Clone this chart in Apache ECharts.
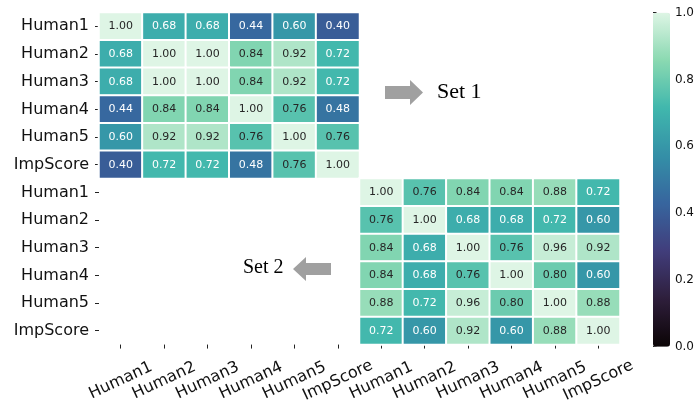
<!DOCTYPE html>
<html>
<head>
<meta charset="utf-8">
<script src="https://cdn.jsdelivr.net/npm/echarts@6/dist/echarts.min.js"></script>
<style>
    html, body { margin: 0; padding: 0; background: #fff; }
    #chart { width: 697px; height: 405px; }
</style>
</head>
<body>
<div id="chart"></div>
<script>
    // row / column labels (same list used for both sets)
    const categories = ['Human1', 'Human2', 'Human3', 'Human4', 'Human5', 'ImpScore'];

    // Set 1 (top-left block)
    const set1 = [
        [1.00, 0.68, 0.68, 0.44, 0.60, 0.40],
        [0.68, 1.00, 1.00, 0.84, 0.92, 0.72],
        [0.68, 1.00, 1.00, 0.84, 0.92, 0.72],
        [0.44, 0.84, 0.84, 1.00, 0.76, 0.48],
        [0.60, 0.92, 0.92, 0.76, 1.00, 0.76],
        [0.40, 0.72, 0.72, 0.48, 0.76, 1.00]
    ];

    // Set 2 (bottom-right block)
    const set2 = [
        [1.00, 0.76, 0.84, 0.84, 0.88, 0.72],
        [0.76, 1.00, 0.68, 0.68, 0.72, 0.60],
        [0.84, 0.68, 1.00, 0.76, 0.96, 0.92],
        [0.84, 0.68, 0.76, 1.00, 0.80, 0.60],
        [0.88, 0.72, 0.96, 0.80, 1.00, 0.88],
        [0.72, 0.60, 0.92, 0.60, 0.88, 1.00]
    ];

    // colorbar ticks
    const colorbarTicks = [0.0, 0.2, 0.4, 0.6, 0.8, 1.0];

    // mako colormap
    const mako = ['#0B0405', '#2E1E3B', '#413D7B', '#37659E', '#348FA7', '#40B7AD', '#8AD9B1', '#DEF5E5'];

    const axisCats = categories.concat(categories);
    const n = categories.length;

    function cell(x, y, v) {
        return {
            value: [x, y, v],
            label: {color: v < 0.74 ? '#ffffff' : '#262626'}
        };
    }

    const heatData = [];
    set1.forEach((row, r) => row.forEach((v, c) => heatData.push(cell(c, r, v))));
    set2.forEach((row, r) => row.forEach((v, c) => heatData.push(cell(c + n, r + n, v))));

    const font = 'DejaVu Sans';

    const option = {
        animation: false,
        backgroundColor: '#fff',
        grid: [
            {left: 99, right: 77, top: 12.5, bottom: 60},
            // colorbar axis
            {left: 653, width: 17, top: 12.7, height: 334}
        ],
        xAxis: [
            {
                type: 'category',
                gridIndex: 0,
                data: axisCats,
                position: 'bottom',
                axisLine: {show: false},
                axisTick: {show: true, alignWithLabel: true, length: 4, lineStyle: {color: '#222', width: 1}},
                splitLine: {show: false},
                splitArea: {show: false},
                axisLabel: {
                    interval: 0,
                    rotate: 25,
                    align: 'center',
                    verticalAlign: 'middle',
                    margin: 36,
                    fontFamily: font,
                    fontSize: 16,
                    color: '#111'
                }
            },
            {
                type: 'value',
                gridIndex: 1,
                show: false
            }
        ],
        yAxis: [
            {
                type: 'category',
                gridIndex: 0,
                data: axisCats,
                inverse: true,
                axisLine: {show: false},
                axisTick: {show: true, alignWithLabel: true, length: 4, lineStyle: {color: '#222', width: 1}},
                splitLine: {show: false},
                splitArea: {show: false},
                axisLabel: {
                    interval: 0,
                    margin: 10,
                    fontFamily: font,
                    fontSize: 16,
                    color: '#111'
                }
            },
            {
                type: 'value',
                gridIndex: 1,
                position: 'right',
                min: 0,
                max: 1,
                interval: 0.2,
                axisLine: {show: false},
                axisTick: {show: true, length: 3.5, lineStyle: {color: '#222', width: 1}},
                splitLine: {show: false},
                axisLabel: {
                    margin: 8,
                    fontFamily: font,
                    fontSize: 12,
                    color: '#111',
                    formatter: v => v.toFixed(1)
                }
            }
        ],
        visualMap: {
            type: 'continuous',
            seriesIndex: 0,
            dimension: 2,
            min: 0,
            max: 1,
            calculable: false,
            hoverLink: false,
            orient: 'vertical',
            left: 653,
            top: 12.7,
            padding: 0,
            itemWidth: 17,
            itemHeight: 334,
            inRange: {color: mako}
        },
        series: [{
            type: 'heatmap',
            xAxisIndex: 0,
            yAxisIndex: 0,
            data: heatData,
            itemStyle: {borderColor: '#ffffff', borderWidth: 2},
            label: {
                show: true,
                fontFamily: font,
                fontSize: 11,
                formatter: p => p.value[2].toFixed(2)
            },
            emphasis: {disabled: true}
        }],
        graphic: [
            {
                type: 'polygon',
                shape: {points: [[385, 86], [410, 86], [410, 80], [423, 92.5], [410, 105], [410, 99], [385, 99]]},
                style: {fill: '#a0a0a0'}
            },
            {
                type: 'text',
                x: 437, y: 92,
                style: {text: 'Set 1', font: '22px "Liberation Serif"', fill: '#000', verticalAlign: 'middle'}
            },
            {
                type: 'polygon',
                shape: {points: [[331, 263], [306, 263], [306, 257], [293, 269], [306, 281], [306, 275], [331, 275]]},
                style: {fill: '#a0a0a0'}
            },
            {
                type: 'text',
                x: 243, y: 268,
                style: {text: 'Set 2', font: '20px "Liberation Serif"', fill: '#000', verticalAlign: 'middle'}
            }
        ]
    };

    const chart = echarts.init(document.getElementById('chart'));
    chart.setOption(option);
</script>
</body>
</html>
